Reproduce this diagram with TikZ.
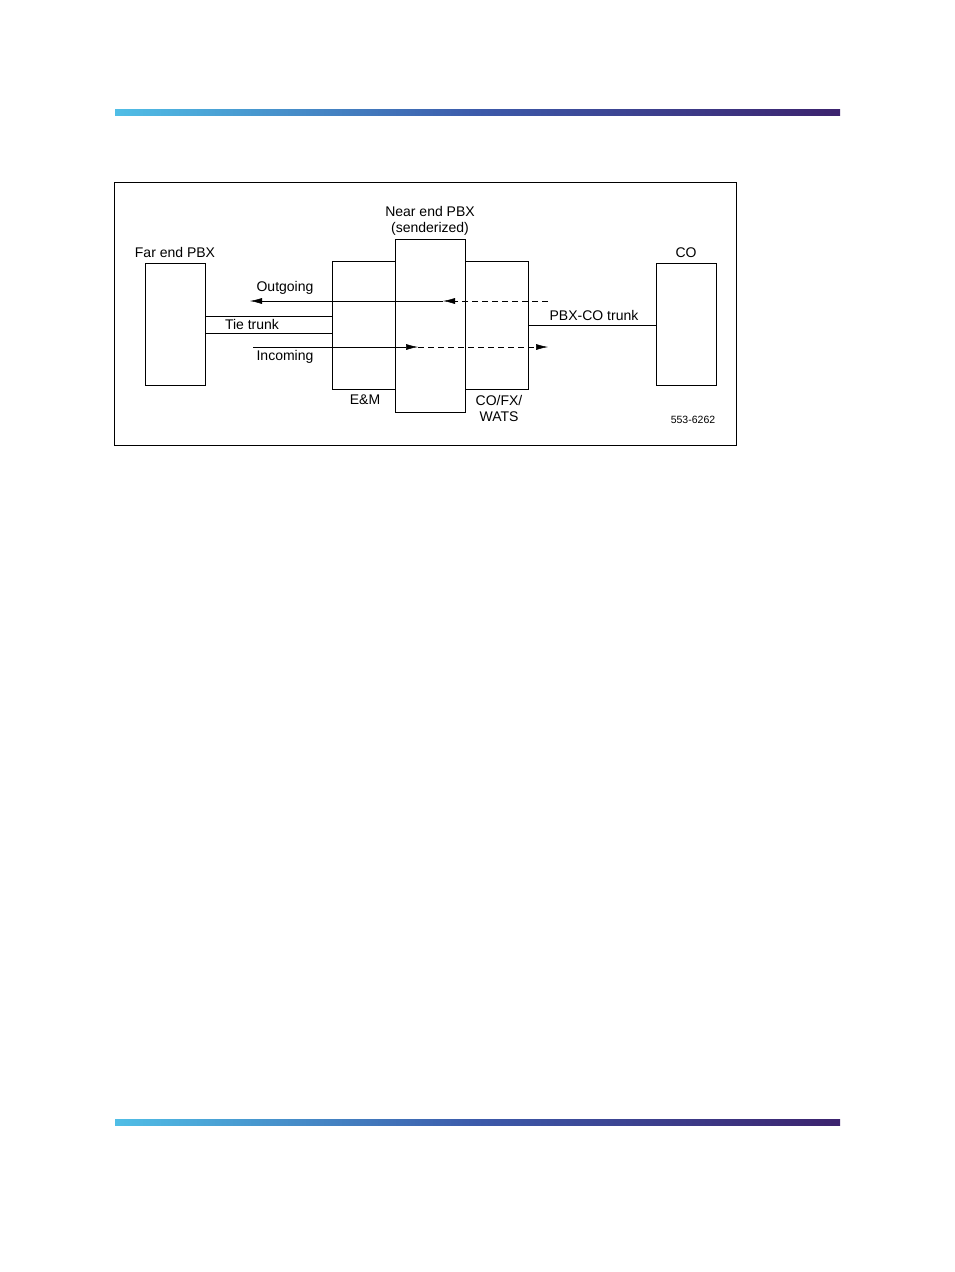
\documentclass[tikz,border=0pt]{standalone}
\usepackage{fontspec}
\setmainfont{Liberation Sans}
\usetikzlibrary{arrows.meta,positioning}
\definecolor{barA}{RGB}{80,190,230}
\definecolor{barB}{RGB}{60,90,170}
\definecolor{barC}{RGB}{60,35,110}
\tikzset{
  unit/.style={draw,line width=0.5pt,inner sep=0pt,anchor=north west},
  lbl/.style={font=\fontsize{14}{16}\selectfont,inner sep=0pt},
  tip/.style={-{Latex[length=12pt,width=6pt]}},
  dash line/.style={dash pattern=on 6pt off 4pt}
}
\begin{document}
\begin{tikzpicture}[x=1pt,y=-1pt,line width=0.5pt]
    \useasboundingbox (0,0) rectangle (954,1272);

    % Header and footer bars
    \shade[left color=barA,right color=barC,middle color=barB] (115,109) rectangle (840,115);
    \shade[left color=barA,right color=barC,middle color=barB] (115,1119) rectangle (840,1125);

    % Frame
    \draw (114,182) rectangle (736,445);

    % Boxes
    \node[unit,minimum width=60pt,minimum height=122pt] (far) at (145,263) {};
    \node[unit,minimum width=63pt,minimum height=128pt] (em) at (332,261) {};
    \node[unit,minimum width=63pt,minimum height=128pt] (cofx) at (465,261) {};
    \node[unit,fill=white,minimum width=70pt,minimum height=173pt] (near) at (395,239) {};
    \node[unit,minimum width=60pt,minimum height=122pt] (co) at (656,263) {};

    % Labels
    \node[lbl] (farlbl) at (175,252) {Far end PBX};
    \node[lbl] (nearlbl) at (430,211) {Near end PBX};
    \node[lbl] (senlbl) at (430,229) {(senderized)};
    \node[lbl] (colbl) at (686,253) {CO};
    \node[lbl] (emlbl) at (365,400) {E\&M};
    \node[lbl,align=center] (cofxlbl) at (499,408) {CO/FX/\\WATS};
    \node[lbl] (outlbl) at (285,288) {Outgoing};
    \node[lbl] (inlbl) at (285,357) {Incoming};
    \node[lbl] (tielbl) at (252,324) {Tie trunk};
    \node[lbl] (trunklbl) at (594,315) {PBX-CO trunk};
    \node[font=\fontsize{10.5}{12}\selectfont,inner sep=0pt] (fig) at (693,420) {553-6262};

    % Trunks
    \draw (far.east |- 0,316) -- (em.west |- 0,316);
    \draw (far.east |- 0,333) -- (em.west |- 0,333);
    \draw (cofx.east |- 0,325) -- (co.west |- 0,325);

    % Call paths
    \coordinate (outS) at (548,301);
    \coordinate (outM) at (443,301);
    \coordinate (outE) at (250,301);
    \coordinate (inS) at (253,347);
    \coordinate (inM) at (418,347);
    \coordinate (inE) at (548,347);
    \draw[tip,dash line] (outS) -- (outM);
    \draw[tip] (outM) -- (outE);
    \draw[tip] (inS) -- (inM);
    \draw[tip,dash line] (inM) -- (inE);
\end{tikzpicture}
\end{document}
